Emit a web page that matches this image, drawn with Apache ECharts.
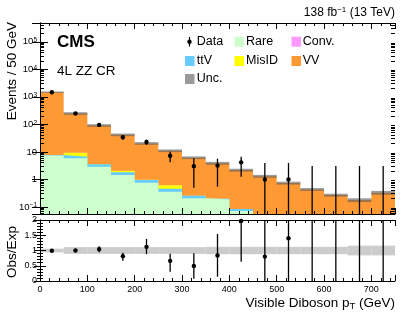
<!DOCTYPE html>
<html><head><meta charset="utf-8">
<script src="https://cdn.jsdelivr.net/npm/echarts@6/dist/echarts.min.js"></script>
<style>html,body{margin:0;padding:0;background:#fff}#c{width:407px;height:317px}</style>
</head><body><div id="c"></div>
<script>
// ---- data ----
const binEdges = [0,50,100,150,200,250,300,350,400,450,500,550,600,650,700,750];
const rare  = [7.4, 5.9, 2.9, 1.46, 0.77, 0.36, 0.21, 0.19, 0.072, 0.03, 0.02, 0.015, 0.01, 0.008, 0.01];
const ttV   = [0.4, 0.8, 0.65, 0.37, 0.2, 0.1, 0.05, 0.01, 0.013, 0.005, 0.004, 0.003, 0.002, 0.002, 0.002];
const misID = [0.0, 2.7, 0.1, 0.26, 0.01, 0.16, 0.0, 0.0, 0.0, 0, 0, 0, 0, 0, 0];
const conv  = [0.02, 0.02, 0.01, 0.01, 0.005, 0.005, 0, 0, 0, 0, 0, 0, 0, 0, 0];
const vv    = [1472, 240.6, 88.3, 39.9, 19.5, 10.5, 5.94, 3.7, 2.11, 1.28, 0.72, 0.42, 0.26, 0.17, 0.32];
const relUnc = [0.06, 0.11, 0.11, 0.11, 0.11, 0.11, 0.11, 0.12, 0.12, 0.12, 0.12, 0.12, 0.12, 0.16, 0.16];
const dataVal = [1470, 250, 96, 34, 23, 7.3, 3.05, 3.2, 4.2, 1.0, 1.0, null, null, null, null];
const dataLo  = [1432, 234, 86, 28, 18, 4.2, 0.5, 0.55, 1.26, 0, 0, 0, 0, 0, 0];
const dataHi  = [1508, 266, 106, 40, 28, 10.2, 5.9, 5.7, 6.7, 4.0, 4.0, 3.1, 3.1, 3.1, 3.1];
const ratioVal = [0.99, 1.0, 1.04, 0.81, 1.12, 0.66, 0.49, 0.84, 1.97, 0.8, 1.4, null, null, null, null];
const ratioLo  = [0.97, 0.97, 0.94, 0.66, 0.88, 0.30, 0.07, 0.14, 0.63, 0, 0, 0, 0, 0, 0];
const ratioHi  = [1.01, 1.03, 1.14, 0.93, 1.38, 0.89, 0.91, 1.54, 3, 3, 3, 3, 3, 3, 3];
const xTickLabels = ['0','100','200','300','400','500','600','700'];
const ratioTickLabels = ['0','0.5','1','1.5','2'];
const mainDecades = [-1, 0, 1, 2, 3, 4, 5];

// ---- helpers ----
const Y_MIN = 0.056, Y_MAX = 4.8e5;
const FONT = '"Liberation Sans", Arial, Helvetica, sans-serif';
const n = binEdges.length - 1;
const centers = binEdges.slice(0, n).map((e, i) => (e + binEdges[i + 1]) / 2);
function stepData(vals) {
  const d = vals.map((v, i) => [binEdges[i], v]);
  d.push([binEdges[n], vals[n - 1]]);
  return d;
}
const comps = [
  {name: 'Rare', vals: rare, color: '#ccffcc'},
  {name: 'ttV', vals: ttV, color: '#66ccff'},
  {name: 'MisID', vals: misID, color: '#ffff00'},
  {name: 'Conv.', vals: conv, color: '#ff99ff'},
  {name: 'VV', vals: vv, color: '#ff9933'}
];
let cum = new Array(n).fill(0);
comps.forEach(c => { cum = cum.map((s, i) => s + c.vals[i]); c.cum = cum.slice(); });
const total = cum;

const series = [];
// cumulative areas, drawn top component first
comps.slice().reverse().forEach(c => series.push({
  type: 'line', name: c.name, xAxisIndex: 0, yAxisIndex: 0, step: 'end',
  data: stepData(c.cum), symbol: 'none', silent: true,
  lineStyle: {width: 0, opacity: 0},
  areaStyle: {color: c.color, opacity: 1, origin: 'start'}, z: 2
}));

function bandSeries(xi, yi, items, fill, logY, z) {
  return {type: 'custom', xAxisIndex: xi, yAxisIndex: yi, z, silent: true, data: items, encode: {x: [0, 1], y: [2, 3]},
    renderItem: (params, api) => {
      const x0 = api.value(0), x1 = api.value(1);
      let lo = api.value(2), hi = api.value(3);
      if (logY) { lo = Math.max(lo, Y_MIN); hi = Math.max(hi, Y_MIN); }
      const p0 = api.coord([x0, hi]), p1 = api.coord([x1, lo]);
      return {type: 'rect', shape: {x: p0[0], y: p0[1], width: p1[0] - p0[0], height: p1[1] - p0[1]}, style: {fill}};
    }};
}
series.push(bandSeries(0, 0, total.map((t, i) => [binEdges[i], binEdges[i + 1], t * (1 - relUnc[i]), t * (1 + relUnc[i])]),
  'rgba(90,90,90,0.6)', true, 3));
series.push(bandSeries(2, 2, relUnc.map((u, i) => [binEdges[i], binEdges[i + 1], 1 - u, 1 + u]), '#cccccc', false, 3));

function errItem(params, api, logY) {
  const cs = params.coordSys;
  const top = cs.y, bot = cs.y + cs.height;
  const x = api.value(0), v = api.value(1), lo = api.value(2), hi = api.value(3);
  const fix = val => logY ? Math.max(val, Y_MIN * 0.5) : val;
  const clampY = p => Math.min(Math.max(p, top), bot);
  const px = api.coord([x, fix(hi)])[0];
  const yHi = clampY(api.coord([x, fix(hi)])[1]);
  const yLo = clampY(api.coord([x, fix(lo)])[1]);
  const children = [{type: 'line', shape: {x1: px, y1: yLo, x2: px, y2: yHi}, style: {stroke: '#000', lineWidth: 1.3}}];
  if (v >= 0) {
    const p = api.coord([x, v]);
    children.push({type: 'circle', shape: {cx: p[0], cy: clampY(p[1]), r: 2.2}, style: {fill: '#000'}});
  }
  return {type: 'group', children};
}
series.push({type: 'custom', xAxisIndex: 0, yAxisIndex: 0, z: 8, silent: true,
  data: centers.map((c, i) => [c, dataVal[i] == null ? -1 : dataVal[i], dataLo[i], dataHi[i]]),
  encode: {x: 0, y: 3}, renderItem: (p, a) => errItem(p, a, true)});
series.push({type: 'custom', xAxisIndex: 2, yAxisIndex: 2, z: 8, silent: true,
  data: centers.map((c, i) => [c, ratioVal[i] == null ? -1 : ratioVal[i], ratioLo[i], ratioHi[i]]),
  encode: {x: 0, y: 3}, renderItem: (p, a) => errItem(p, a, false)});

// log minor ticks on main panel (left & right)
const minorLogTicks = [];
for (let d = mainDecades[0] - 1; d <= mainDecades[mainDecades.length - 1]; d++)
  for (let k = 2; k <= 9; k++) { const v = k * Math.pow(10, d); if (v > Y_MIN && v < Y_MAX) minorLogTicks.push([0, v]); }
series.push({type: 'custom', xAxisIndex: 0, yAxisIndex: 0, z: 9, silent: true, data: minorLogTicks, encode: {x: 0, y: 1},
  renderItem: (params, api) => {
    const cs = params.coordSys;
    const y = Math.round(api.coord([0, api.value(1)])[1] - 0.5) + 0.5;
    return {type: 'group', children: [
      {type: 'line', shape: {x1: cs.x, y1: y, x2: cs.x + 4, y2: y}, style: {stroke: '#000', lineWidth: 1}},
      {type: 'line', shape: {x1: cs.x + cs.width - 4, y1: y, x2: cs.x + cs.width, y2: y}, style: {stroke: '#000', lineWidth: 1}}
    ]};
  }});

// ---- axes ----
const black = {color: '#000', width: 1};
function xAx(grid, pos, labels) {
  return {gridIndex: grid, type: 'value', min: 0, max: 750, interval: 100, position: pos, z: 10,
    axisLine: {show: true, onZero: false, lineStyle: black},
    axisTick: {show: true, inside: true, length: 6, lineStyle: black},
    minorTick: {show: true, splitNumber: 5, length: 3, lineStyle: black},
    splitLine: {show: false},
    axisLabel: labels ? {show: true, fontSize: 9, fontFamily: FONT, color: '#000', margin: 4, showMaxLabel: false,
      formatter: v => { const i = Math.round(v / 100); return (v % 100 === 0 && xTickLabels[i] !== undefined) ? xTickLabels[i] : ''; }} : {show: false}};
}
function logLabel(v) {
  const lg = Math.log10(v), e = Math.round(lg);
  if (Math.abs(lg - e) > 0.01 || mainDecades.indexOf(e) < 0) return '';
  if (e === 0) return '1';
  if (e === 1) return '10';
  return '10{e|' + (e < 0 ? '\u2212' + (-e) : e) + '}';
}
function yMain(pos, labels) {
  return {gridIndex: 0, type: 'log', logBase: 10, min: Y_MIN, max: Y_MAX, position: pos, z: 10,
    axisLine: {show: true, lineStyle: black},
    axisTick: {show: true, inside: true, length: 8, lineStyle: black},
    minorTick: {show: false}, splitLine: {show: false},
    axisLabel: labels ? {show: true, margin: 3, showMinLabel: false, showMaxLabel: false, formatter: logLabel, color: '#000',
      fontSize: 9.5, fontFamily: FONT,
      rich: {e: {fontSize: 6.5, fontFamily: FONT, color: '#000', lineHeight: 7, verticalAlign: 'top'}}} : {show: false}};
}
function yRatio(pos, labels) {
  return {gridIndex: 1, type: 'value', min: 0, max: 2, interval: 0.5, position: pos, z: 10,
    axisLine: {show: true, lineStyle: black},
    axisTick: {show: true, inside: true, length: 6, lineStyle: black},
    minorTick: {show: true, splitNumber: 5, length: 3, lineStyle: black}, splitLine: {show: false},
    axisLabel: labels ? {show: true, margin: 3, fontSize: 9, fontFamily: FONT, color: '#000',
      formatter: v => { const i = Math.round(v / 0.5); return ratioTickLabels[i] !== undefined ? ratioTickLabels[i] : ''; }} : {show: false}};
}

// ---- graphic (texts, legend) ----
const g = [];
const txt = (x, y, text, extra) => g.push(Object.assign({type: 'text', x, y, z: 100, silent: true,
  style: Object.assign({text, fontFamily: FONT, fontSize: 12.5, fill: '#000', align: 'left', verticalAlign: 'middle'}, extra || {})}));
txt(57, 42, 'CMS', {fontSize: 17, fontWeight: 'bold'});
txt(57, 71, '4L ZZ CR', {fontSize: 13.5});
txt(395, 13, '{n|138 fb}{s|\u22121}{n| (13 TeV)}', {align: 'right', rich: {
  n: {fontSize: 12, fontFamily: FONT, lineHeight: 14}, s: {fontSize: 8, fontFamily: FONT, lineHeight: 9, verticalAlign: 'top'}}});
g.push({type: 'text', x: 12, y: 22, rotation: Math.PI / 2, z: 100, silent: true,
  style: {text: 'Events / 50 GeV', fontFamily: FONT, fontSize: 13.5, fill: '#000', align: 'right', verticalAlign: 'middle'}});
g.push({type: 'text', x: 12, y: 252, rotation: Math.PI / 2, z: 100, silent: true,
  style: {text: 'Obs/Exp', fontFamily: FONT, fontSize: 13.5, fill: '#000', align: 'center', verticalAlign: 'middle'}});
txt(395, 303, '{t|Visible Diboson p}{u|T}{t| (GeV)}', {align: 'right', rich: {
  t: {fontSize: 13.5, fontFamily: FONT, lineHeight: 16}, u: {fontSize: 9.5, fontFamily: FONT, lineHeight: 10, verticalAlign: 'bottom'}}});
// legend
const legendItems = [
  {label: 'Rare', color: '#ccffcc', bx: 234.5, tx: 246, y: 41.7},
  {label: 'Conv.', color: '#ff99ff', bx: 291.5, tx: 302.7, y: 41.7},
  {label: 'ttV', color: '#66ccff', bx: 185, tx: 196.7, y: 61},
  {label: 'MisID', color: '#ffff00', bx: 234.5, tx: 246, y: 61},
  {label: 'VV', color: '#ff9933', bx: 291.5, tx: 302.7, y: 61},
  {label: 'Unc.', color: '#9a9a9a', bx: 185, tx: 196.7, y: 79}
];
legendItems.forEach(it => {
  g.push({type: 'rect', z: 100, silent: true, shape: {x: it.bx, y: it.y - 5, width: 9.5, height: 10}, style: {fill: it.color}});
  txt(it.tx, it.y, it.label);
});
g.push({type: 'line', z: 100, silent: true, shape: {x1: 189.5, y1: 37, x2: 189.5, y2: 46.5}, style: {stroke: '#000', lineWidth: 1.2}});
g.push({type: 'circle', z: 100, silent: true, shape: {cx: 189.5, cy: 41.7, r: 2.2}, style: {fill: '#000'}});
txt(196.7, 41.7, 'Data');

const chart = echarts.init(document.getElementById('c'), null, {renderer: 'canvas'});
chart.setOption({
  animation: false,
  backgroundColor: '#fff',
  textStyle: {fontFamily: FONT},
  grid: [{left: 40, top: 23, width: 355, height: 191}, {left: 40, top: 220, width: 355, height: 61}],
  xAxis: [xAx(0, 'bottom', false), xAx(0, 'top', false), xAx(1, 'bottom', true), xAx(1, 'top', false)],
  yAxis: [yMain('left', true), yMain('right', false), yRatio('left', true), yRatio('right', false)],
  series: series,
  graphic: {elements: g}
});
</script></body></html>
